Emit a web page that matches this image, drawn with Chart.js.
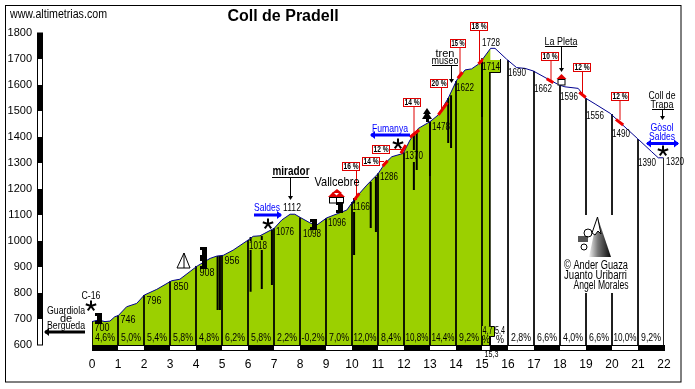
<!DOCTYPE html>
<html>
<head>
<meta charset="utf-8">
<title>Coll de Pradell</title>
<script src="https://cdn.jsdelivr.net/npm/chart.js@4"></script>
<style>
  html, body { margin: 0; padding: 0; background: #fff; }
  canvas { display: block; }
</style>
</head>
<body>
<canvas id="chart" width="695" height="389"></canvas>
<script>
// profile
const profileKm = [0, 0.24, 0.5, 0.69, 0.88, 1.01, 1.33, 1.72, 2.01, 2.49, 3.06, 3.38, 4.05, 4.54, 4.8, 5.05, 5.43, 6.01, 6.2, 6.46, 7.01, 7.3, 7.62, 7.8, 8.02, 8.38, 8.64, 9.03, 9.8, 10.12, 10.57, 11.01, 11.27, 11.53, 11.97, 12.23, 12.55, 13.0, 13.32, 13.7, 14.03, 14.35, 14.6, 14.86, 15.05, 15.33, 15.5, 15.95, 16.33, 16.65, 16.97, 17.55, 17.97, 18.19, 18.7, 18.99, 19.35, 19.93, 20.37, 20.97, 21.53, 21.78, 21.97];
const profileElev = [690, 696, 690, 692, 709, 713, 747, 760, 792, 814, 847, 853, 904, 933, 942, 945, 965, 1004, 1018, 1020, 1049, 1081, 1103, 1103, 1090, 1070, 1061, 1089, 1119, 1164, 1215, 1260, 1299, 1324, 1337, 1388, 1433, 1459, 1485, 1549, 1619, 1658, 1662, 1680, 1703, 1741, 1741, 1699, 1667, 1664, 1654, 1622, 1600, 1593, 1587, 1549, 1527, 1491, 1450, 1395, 1343, 1320, 1320];
const greenEndIndex = 45; // the green part stops at km 15,3

const yTicks = [600, 700, 800, 900, 1000, 1100, 1200, 1300, 1400, 1500, 1600, 1700, 1800];
const kmStops = [0, 1, 2, 3, 4, 5, 6, 7, 8, 9, 10, 11, 12, 13, 14, 15, 15.3, 16, 17, 18, 19, 20, 21, 22];
const kmTops = [690, 713, 792, 845, 904, 945, 1004, 1049, 1090, 1087, 1150, 1260, 1340, 1459, 1615, 1703, 1692, 1695, 1654, 1598, 1549, 1488, 1392, 1320];
const slopeLabels = ['4,6%', '5,0%', '5,4%', '5,8%', '4,8%', '6,2%', '5,8%', '2,2%', '-0,2%', '7,0%', '12,0%', '8,4%', '10,8%', '14,4%', '9,2%', '', '', '2,8%', '6,6%', '4,0%', '6,6%', '10,0%', '9,2%'];

// thick marks: km, from, to
const thickKm = [4.83, 4.92, 6.1, 6.1, 6.53, 6.53, 6.92, 10.08, 10.08, 10.72, 10.92, 12.38, 12.38, 12.49, 13, 13.7, 13.81, 15];
const thickTop = [942, 942, 1015, 965, 1019, 965, 1042, 1165, 1112, 1227, 1246, 1415, 1304, 1415, 1458, 1550, 1561, 1688];
const thickBottom = [735, 735, 1000, 805, 1004, 815, 831, 1146, 946, 1050, 1035, 1350, 1196, 1273, 1250, 1377, 1358, 1477];

// steep stretches in red
const steepKm = [[10.09, 10.28], [11.18, 11.37], [11.88, 12.07], [12.23, 12.58], [13.32, 13.67], [14.07, 14.25], [14.86, 15.05], [17.49, 17.74], [18.74, 18.99], [20.15, 20.43]];
const steepElev = [[1158, 1183], [1288, 1309], [1337, 1369], [1399, 1427], [1485, 1532], [1626, 1649], [1681, 1699], [1624, 1609], [1572, 1552], [1468, 1446]];
const steepLabels = ['16 %', '14 %', '12 %', '14 %', '20 %', '15 %', '18 %', '10 %', '12 %', '12 %'];

const elevLabels = ['700', '746', '796', '850', '908', '956', '1018', '1076', '1098', '1096', '1166', '1286', '1370', '1478', '1622', '1714', '1728', '1690', '1662', '1596', '1556', '1490', '1390', '1320', '1112'];
const elevLabelX = [102, 128, 154, 181, 207, 232, 258, 285, 312, 337, 361, 389, 414, 441, 465, 491, 491, 517, 543, 569, 595, 621, 647, 675, 292];
const elevLabelY = [328, 320, 301, 287, 273, 261, 246, 232, 234, 223, 207, 177, 156, 127, 88, 67, 43, 73, 89, 97, 116, 134, 163, 162, 208];

const FONT = '"Liberation Sans", Arial, sans-serif';
const GREEN = '#9bd000';

// vertical km lines, two of them broken around the logo
function kmLines() {
  const pts = [];
  kmStops.forEach((k, i) => {
    if (k === 19 || k === 20) {
      pts.push({x: k, y: kmTops[i]}, {x: k, y: 1100}, {x: k, y: null}, {x: k, y: 800}, {x: k, y: 600}, {x: k, y: null});
    } else {
      pts.push({x: k, y: kmTops[i]}, {x: k, y: 600}, {x: k, y: null});
    }
  });
  return pts;
}

function thickLines() {
  const pts = [];
  thickKm.forEach((k, i) => {
    pts.push({x: k, y: thickTop[i]}, {x: k, y: thickBottom[i]}, {x: k, y: null});
  });
  return pts;
}

function steepLines() {
  const pts = [];
  steepKm.forEach((k, i) => {
    pts.push({x: k[0], y: steepElev[i][0]}, {x: k[1], y: steepElev[i][1]}, {x: k[1], y: null});
  });
  return pts;
}

const profile = profileKm.map((k, i) => ({x: k, y: profileElev[i]}));

function text(ctx, str, x, y, font, color, align, maxW) {
  ctx.font = font;
  ctx.fillStyle = color || '#000';
  ctx.textAlign = align || 'center';
  ctx.textBaseline = 'middle';
  if (maxW) ctx.fillText(str, x, y, maxW);
  else ctx.fillText(str, x, y);
}

function line(ctx, x1, y1, x2, y2, color, w) {
  ctx.strokeStyle = color || '#000';
  ctx.lineWidth = w || 1;
  ctx.beginPath();
  ctx.moveTo(x1, y1);
  ctx.lineTo(x2, y2);
  ctx.stroke();
}

function poly(ctx, pts, fill, stroke) {
  ctx.beginPath();
  pts.forEach((p, i) => i ? ctx.lineTo(p[0], p[1]) : ctx.moveTo(p[0], p[1]));
  ctx.closePath();
  if (fill) { ctx.fillStyle = fill; ctx.fill(); }
  if (stroke) { ctx.strokeStyle = stroke; ctx.lineWidth = 1; ctx.stroke(); }
}

function star(ctx, x, y) {
  for (let a = 0; a < 5; a++) {
    const t = -Math.PI / 2 + a * 2 * Math.PI / 5;
    line(ctx, x, y, x + Math.cos(t) * 5.5, y + Math.sin(t) * 5.5, '#000', 2);
  }
}

function arrowDown(ctx, x, y1, y2) {
  line(ctx, x + .5, y1, x + .5, y2);
  poly(ctx, [[x - 2, y2 - 3], [x + 3, y2 - 3], [x + .5, y2 + 1]], '#000');
}

function thickArrow(ctx, x1, x2, y, color, left, right) {
  ctx.fillStyle = color;
  ctx.fillRect(x1, y - 1.5, x2 - x1, 3);
  if (left) poly(ctx, [[x1 + 4, y - 4], [x1 + 4, y + 4], [x1 - 1, y]], color);
  if (right) poly(ctx, [[x2 - 4, y - 4], [x2 - 4, y + 4], [x2 + 1, y]], color);
}

function tower(ctx, x, y) {
  ctx.fillStyle = '#000';
  ctx.fillRect(x - 3, y - 5, 7, 3);
  ctx.fillRect(x - 1, y - 2, 5, 5);
  ctx.fillRect(x - 3, y + 3, 7, 3);
}

function house(ctx, x, y) {
  poly(ctx, [[x - 5, y], [x, y - 5], [x + 5, y]], '#e00000');
  ctx.fillStyle = '#fff';
  ctx.fillRect(x - 4, y, 8, 6);
  ctx.strokeStyle = '#000';
  ctx.lineWidth = 1;
  ctx.strokeRect(x - 3.5, y + .5, 7, 5.5);
}

// frame, axis bars, labels and little drawings
const decor = {
  id: 'decor',
  beforeDatasetsDraw(chart) {
    const ctx = chart.ctx;
    ctx.save();
    ctx.strokeStyle = '#000';
    ctx.lineWidth = 1;
    ctx.strokeRect(5.5, 5.5, 675.5, 376.5);
    ctx.restore();
  },
  afterDatasetsDraw(chart) {
    const ctx = chart.ctx;
    const xs = chart.scales.x;
    const ys = chart.scales.y;
    ctx.save();

    // elevation bar on the left
    for (let i = 0; i < yTicks.length - 1; i++) {
      const top = ys.getPixelForValue(yTicks[i + 1]);
      const bot = ys.getPixelForValue(yTicks[i]);
      ctx.fillStyle = i % 2 ? '#000' : '#fff';
      ctx.fillRect(37, top, 6, bot - top);
    }
    ctx.strokeStyle = '#000';
    ctx.lineWidth = 1;
    ctx.strokeRect(37.5, ys.getPixelForValue(1800), 5, ys.getPixelForValue(600) - ys.getPixelForValue(1800));

    // distance bar along the bottom
    const base = ys.getPixelForValue(600);
    for (let i = 0; i < kmStops.length - 1; i++) {
      const l = xs.getPixelForValue(kmStops[i]);
      const r = xs.getPixelForValue(kmStops[i + 1]);
      ctx.fillStyle = i % 2 ? '#fff' : '#000';
      ctx.fillRect(l, base, r - l, 6);
    }
    ctx.strokeRect(xs.getPixelForValue(0) + .5, base + .5, xs.getPixelForValue(22) - xs.getPixelForValue(0), 5);

    // the odd 15,3 box
    ctx.fillStyle = GREEN;
    ctx.fillRect(482, 326, 12, 10);
    line(ctx, 490.5, 326.5, 494.5, 326.5);
    line(ctx, 494.5, 326.5, 494.5, 336.5);
    line(ctx, 494.5, 336.5, 490.5, 336.5);
    line(ctx, 490.5, 336.5, 490.5, 345);

    // 1714 box
    ctx.fillStyle = GREEN;
    ctx.fillRect(483, 60, 17, 12);
    line(ctx, 500.5, 59, 500.5, 72.5);
    line(ctx, 490, 72.5, 500.5, 72.5);

    // slope figures, centred in their km
    slopeLabels.forEach((s, i) => {
      if (!s) return;
      const x = (xs.getPixelForValue(kmStops[i]) + xs.getPixelForValue(kmStops[i + 1])) / 2;
      text(ctx, s, x, 338, '11px ' + FONT, '#000', 'center', s.length > 4 ? 23 : 20);
    });
    text(ctx, '4,7', 487.5, 331, '11px ' + FONT, '#000', 'center', 10);
    text(ctx, '%', 486, 340, '10px ' + FONT, '#000', 'center', 8);
    text(ctx, '5,4', 500, 331, '11px ' + FONT, '#000', 'center', 10);
    text(ctx, '%', 500, 340, '10px ' + FONT, '#000', 'center', 8);
    text(ctx, '15,3', 491.5, 355, '9px ' + FONT, '#000', 'center', 14);

    elevLabels.forEach((s, i) => {
      text(ctx, s, elevLabelX[i], elevLabelY[i], '11px ' + FONT, '#000', 'center', s.length > 3 ? 18 : 15);
    });

    // red flags over the steep bits
    const boxL = [342, 362, 372, 403, 430, 450, 470, 541, 573, 611];
    const boxT = [162, 157, 145, 98, 79, 39, 22, 52, 63, 92];
    const boxW = [18, 18, 18, 18, 18, 16, 18, 18, 18, 18];
    const leadX = [356, null, null, 413.5, 441, 459.5, 479, 550.5, 582, 619.5];
    const leadY = [200, null, null, 136, 112, 76, 62, 80, 94, 120];
    steepLabels.forEach((s, i) => {
      if (leadX[i] !== null) {
        line(ctx, leadX[i] + .5, boxT[i] + 9, leadX[i] + .5, leadY[i], '#e00000');
      }
      ctx.fillStyle = '#fff';
      ctx.fillRect(boxL[i], boxT[i], boxW[i], 9);
      ctx.strokeStyle = '#e00000';
      ctx.lineWidth = 1;
      ctx.strokeRect(boxL[i] + .5, boxT[i] + .5, boxW[i] - 1, 8);
      text(ctx, s, boxL[i] + boxW[i] / 2, boxT[i] + 5, 'bold 9px ' + FONT, '#000', 'center', boxW[i] - 3);
    });
    line(ctx, 380, 161.5, 384, 161.5, '#e00000');
    line(ctx, 390, 149.5, 403, 149.5, '#e00000');

    // place names
    text(ctx, 'www.altimetrias.com', 10, 15, '12px ' + FONT, '#000', 'left', 97);
    text(ctx, 'Coll de Pradell', 283, 17, 'bold 16px ' + FONT);
    text(ctx, 'Guardiola', 66, 311, '11px ' + FONT, '#000', 'center', 38);
    text(ctx, 'de', 66, 319, '11px ' + FONT);
    text(ctx, 'Bergueda', 66, 326, '11px ' + FONT, '#000', 'center', 38);
    thickArrow(ctx, 45, 85, 332, '#000', true, false);
    text(ctx, 'C-16', 91, 296, '11px ' + FONT, '#000', 'center', 19);
    star(ctx, 91, 306);

    text(ctx, 'mirador', 291, 172, 'bold 12px ' + FONT, '#000', 'center', 37);
    line(ctx, 272, 177.5, 309, 177.5);
    arrowDown(ctx, 290, 177, 199);
    text(ctx, 'Saldes', 267, 208, '11px ' + FONT, '#0000ff', 'center', 26);
    thickArrow(ctx, 254, 281, 215, '#0000ff', false, true);
    star(ctx, 268, 224);

    text(ctx, 'Vallcebre', 337, 182, '13px ' + FONT, '#000', 'center', 45);
    house(ctx, 333, 197);
    house(ctx, 340, 197);
    poly(ctx, [[332, 193], [337, 189], [342, 193]], '#e00000');
    tower(ctx, 339, 207);

    text(ctx, 'Fumanya', 390, 129, '11px ' + FONT, '#0000ff', 'center', 36);
    thickArrow(ctx, 371, 410, 135, '#0000ff', true, false);
    star(ctx, 398, 144);

    // tree
    poly(ctx, [[427, 108], [431, 114], [423, 114]], '#000');
    poly(ctx, [[427, 111], [432, 119], [422, 119]], '#000');
    ctx.fillStyle = '#000';
    ctx.fillRect(426, 119, 3, 3);

    text(ctx, 'tren', 445, 54, '11px ' + FONT);
    text(ctx, 'museo', 445, 61, '11px ' + FONT, '#000', 'center', 27);
    line(ctx, 432, 65.5, 458, 65.5);
    arrowDown(ctx, 451, 65, 82);

    text(ctx, 'La Pleta', 561, 42, '11px ' + FONT, '#000', 'center', 33);
    line(ctx, 545, 46.5, 577, 46.5);
    arrowDown(ctx, 561, 46, 71);
    house(ctx, 561.5, 79);

    text(ctx, 'Coll de', 662, 96, '11px ' + FONT, '#000', 'center', 27);
    text(ctx, 'Trapa', 662, 104.5, '11px ' + FONT, '#000', 'center', 23);
    line(ctx, 652, 109.5, 674, 109.5);
    arrowDown(ctx, 662, 109, 119);
    text(ctx, 'Gòsol', 662, 128, '11px ' + FONT, '#0000ff', 'center', 23);
    text(ctx, 'Saldes', 662, 137, '11px ' + FONT, '#0000ff', 'center', 26);
    thickArrow(ctx, 647, 678, 143.5, '#0000ff', true, true);
    star(ctx, 663, 151);

    // tent
    poly(ctx, [[184, 253], [190, 268], [177, 268]], '#fff', '#000');
    line(ctx, 184, 253, 184, 268);
    tower(ctx, 98, 318);
    tower(ctx, 203, 252);
    tower(ctx, 203, 263);
    tower(ctx, 313, 224);

    // mountain logo and credits
    const g = ctx.createLinearGradient(588, 0, 610, 0);
    g.addColorStop(0, '#ffffff');
    g.addColorStop(.45, '#777777');
    g.addColorStop(1, '#111111');
    poly(ctx, [[597.5, 217], [611, 257], [589, 257]], g);
    poly(ctx, [[597.5, 217], [601, 234], [598, 231], [595, 235], [592, 233]], '#fff', '#000');
    ctx.fillStyle = '#555';
    ctx.fillRect(578, 236, 10, 6);
    ctx.strokeStyle = '#000';
    ctx.lineWidth = 1;
    ctx.beginPath(); ctx.arc(588, 233, 4, 0, 7); ctx.stroke();
    ctx.beginPath(); ctx.arc(584, 247, 3, 0, 7); ctx.stroke();
    text(ctx, '© Ander Guaza', 596, 266, '12px ' + FONT, '#000', 'center', 64);
    text(ctx, 'Juanto Uribarri', 595.5, 276, '12px ' + FONT, '#000', 'center', 63);
    text(ctx, 'Ángel Morales', 601, 286, '12px ' + FONT, '#000', 'center', 55);

    ctx.restore();
  }
};

function noPadding(scale) {
  scale.paddingTop = 0;
  scale.paddingBottom = 0;
  scale.paddingLeft = 0;
  scale.paddingRight = 0;
}

new Chart(document.getElementById('chart'), {
  type: 'line',
  data: {
    datasets: [
      {
        label: 'green',
        data: profile.slice(0, greenEndIndex + 1),
        backgroundColor: GREEN,
        borderWidth: 0,
        pointRadius: 0,
        fill: 'origin',
        tension: 0,
        order: 5
      },
      {
        label: 'km',
        data: kmLines(),
        borderColor: '#000',
        borderWidth: 1,
        pointRadius: 0,
        spanGaps: false,
        order: 4
      },
      {
        label: 'thick',
        data: thickLines(),
        borderColor: '#000',
        borderWidth: 2,
        pointRadius: 0,
        spanGaps: false,
        order: 3
      },
      {
        label: 'profile',
        data: profile,
        borderColor: '#000090',
        borderWidth: 1,
        pointRadius: 0,
        tension: 0,
        order: 2
      },
      {
        label: 'steep',
        data: steepLines(),
        borderColor: '#ee0000',
        borderWidth: 3,
        pointRadius: 0,
        spanGaps: false,
        order: 1
      }
    ]
  },
  options: {
    responsive: false,
    animation: false,
    parsing: false,
    normalized: false,
    layout: { autoPadding: false, padding: { top: 33, right: 31, bottom: 0, left: 0 } },
    plugins: { legend: { display: false }, tooltip: { enabled: false }, title: { display: false } },
    scales: {
      x: {
        type: 'linear',
        min: 0,
        max: 22,
        grid: { display: false, drawTicks: false },
        border: { display: false },
        ticks: {
          stepSize: 1,
          autoSkip: false,
          maxRotation: 0,
          padding: 12,
          color: '#000',
          font: { family: FONT, size: 12 },
          callback: v => String(v)
        },
        afterFit(scale) { scale.height = 44; noPadding(scale); }
      },
      y: {
        type: 'linear',
        min: 600,
        max: 1800,
        grid: { display: false, drawTicks: false },
        border: { display: false },
        afterBuildTicks(scale) { scale.ticks = yTicks.map(v => ({value: v})); },
        ticks: {
          padding: 60,
          color: '#000',
          font: { family: FONT, size: 11 },
          callback: v => String(v)
        },
        afterFit(scale) { scale.width = 92; noPadding(scale); }
      }
    }
  },
  plugins: [decor]
});
</script>
</body>
</html>
